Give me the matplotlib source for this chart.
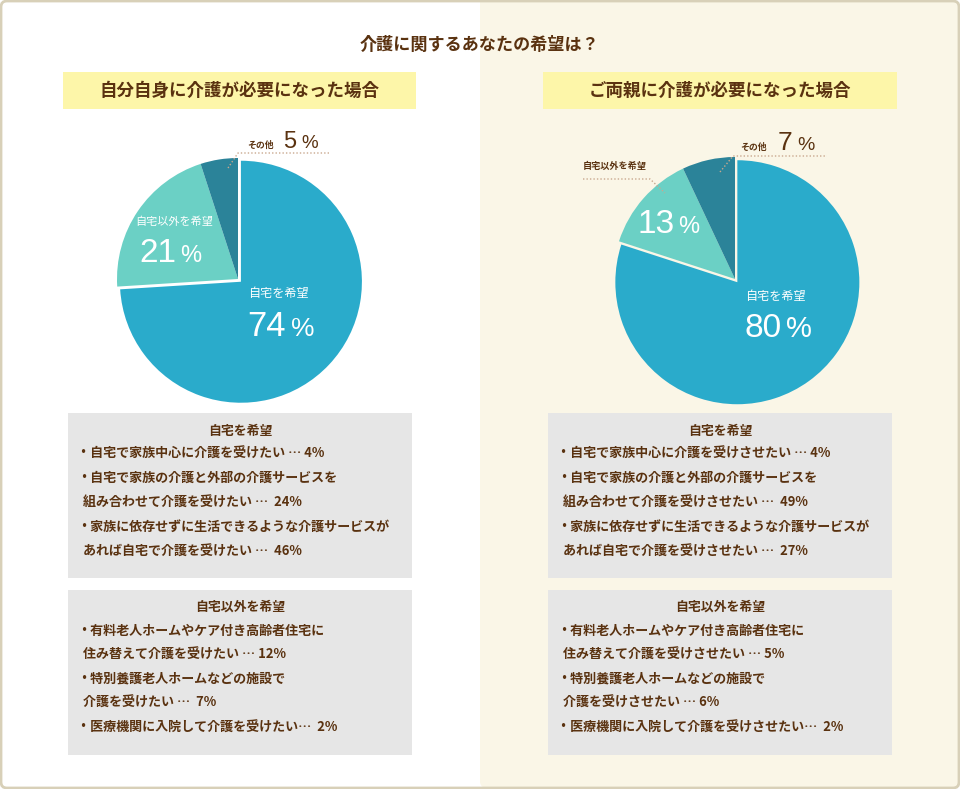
import matplotlib
matplotlib.use("Agg")
import matplotlib.pyplot as plt
from matplotlib.patches import FancyBboxPatch, Rectangle

plt.rcParams['font.family'] = ['Noto Sans CJK JP', 'DejaVu Sans']

# ---------------- data ----------------
title = "介護に関するあなたの希望は？"
left_header = "自分自身に介護が必要になった場合"
right_header = "ご両親に介護が必要になった場合"
slice_labels = ["自宅を希望", "自宅以外を希望", "その他"]
left_values = [74, 21, 5]
right_values = [80, 13, 7]

left_home_lines = [
    ("・自宅で家族中心に介護を受けたい … 4%", True),
    ("・自宅で家族の介護と外部の介護サービスを", True),
    ("組み合わせて介護を受けたい …  24%", False),
    ("・家族に依存せずに生活できるような介護サービスが", True),
    ("あれば自宅で介護を受けたい …  46%", False),
]
left_other_lines = [
    ("・有料老人ホームやケア付き高齢者住宅に", True),
    ("住み替えて介護を受けたい … 12%", False),
    ("・特別養護老人ホームなどの施設で", True),
    ("介護を受けたい …  7%", False),
    ("・医療機関に入院して介護を受けたい…  2%", True),
]
right_home_lines = [
    ("・自宅で家族中心に介護を受けさせたい … 4%", True),
    ("・自宅で家族の介護と外部の介護サービスを", True),
    ("組み合わせて介護を受けさせたい …  49%", False),
    ("・家族に依存せずに生活できるような介護サービスが", True),
    ("あれば自宅で介護を受けさせたい …  27%", False),
]
right_other_lines = [
    ("・有料老人ホームやケア付き高齢者住宅に", True),
    ("住み替えて介護を受けさせたい … 5%", False),
    ("・特別養護老人ホームなどの施設で", True),
    ("介護を受けさせたい … 6%", False),
    ("・医療機関に入院して介護を受けさせたい…  2%", True),
]

# ---------------- style ----------------
W, H = 960, 789
BROWN = "#5a3210"
C_HOME = "#2aabcb"
C_OUT = "#6bd0c5"
C_OTH = "#2b8399"
CREAM = "#faf6e7"
YELLOW = "#fdf6a9"
GRAY = "#e6e6e6"
BORDER = "#d8d0b8"
DOT = "#c9a88e"
NUM_FONT = ["Liberation Sans", "DejaVu Sans"]

fig = plt.figure(figsize=(W / 100, H / 100), dpi=100)
ax = fig.add_axes([0, 0, 1, 1])


def Y(y):
    return H - y


def set_lims():
    ax.set_xlim(0, W)
    ax.set_ylim(0, H)
    ax.set_aspect("auto")


# background
ax.add_patch(FancyBboxPatch((1.5, 1.5), W - 3, H - 3,
                            boxstyle="round,pad=0,rounding_size=6",
                            fc="white", ec="none", zorder=0))
ax.add_patch(FancyBboxPatch((480, 1.5), W - 481.5, H - 3,
                            boxstyle="round,pad=0,rounding_size=6",
                            fc=CREAM, ec="none", zorder=0.1))
ax.add_patch(Rectangle((480, H - 20), 40, 18.5, fc=CREAM, ec="none", zorder=0.1))
ax.add_patch(FancyBboxPatch((1, 1), W - 2, H - 2,
                            boxstyle="round,pad=0,rounding_size=6",
                            fc="none", ec=BORDER, lw=2, zorder=5))


def pie(cx, cy, r, values):
    wedges, _ = ax.pie(values, colors=[C_HOME, C_OUT, C_OTH], startangle=90,
                       counterclock=False, radius=r, center=(cx, Y(cy)),
                       explode=[4, 0, 0], frame=True,
                       wedgeprops=dict(linewidth=0))
    wedges[0].set_zorder(3)
    wedges[1].set_zorder(2)
    wedges[2].set_zorder(2)
    set_lims()
    return wedges


pie(238, 279, 121, left_values)
pie(735, 279, 122, right_values)
set_lims()
ax.axis("off")

ax.text(479, Y(45), title, ha="center", va="center", fontsize=12.3,
        fontweight="bold", color=BROWN)


def header(x0, x1, text):
    ax.add_patch(Rectangle((x0, Y(109)), x1 - x0, 37, fc=YELLOW, ec="none", zorder=1))
    ax.text((x0 + x1) / 2, Y(91), text, ha="center", va="center",
            fontsize=12.6, fontweight="bold", color=BROWN, zorder=2)


header(63, 416, left_header)
header(543, 897, right_header)

renderer = fig.canvas.get_renderer()


def pct(x, y, num, big, small, color, gap=4):
    t = ax.text(x, Y(y), num, ha="left", va="baseline", fontsize=big,
                color=color, family=NUM_FONT, zorder=6)
    bb = t.get_window_extent(renderer=renderer)
    x1 = ax.transData.inverted().transform((bb.x1, bb.y0))[0]
    ax.text(x1 + gap, Y(y), "%", ha="left", va="baseline", fontsize=small,
            color=color, family=NUM_FONT, zorder=6)


def dotted(xs, ys):
    ax.plot(xs, [Y(v) for v in ys], ls=(0, (1, 1.5)), color=DOT, lw=1, zorder=6)


# left pie labels
ax.text(248, Y(293), slice_labels[0], ha="left", va="center", fontsize=8.7,
        color="white", zorder=6)
pct(247, 336, f"{left_values[0]}", 25, 19, "white", gap=5)
ax.text(135, Y(222), slice_labels[1], ha="left", va="center", fontsize=8,
        color="white", zorder=6)
pct(139, 262, f"{left_values[1]}", 24, 17, "white", gap=4)
ax.text(247, Y(145), slice_labels[2], ha="left", va="center", fontsize=6.4,
        fontweight="bold", color=BROWN, zorder=6)
pct(283, 148, f"{left_values[2]}", 17, 13.5, BROWN, gap=5)
dotted([228, 238, 330], [168, 153, 153])

# right pie labels
ax.text(745, Y(296), slice_labels[0], ha="left", va="center", fontsize=8.7,
        color="white", zorder=6)
pct(745, 337, f"{right_values[0]}", 24, 21, "white", gap=4)
pct(638, 233, f"{right_values[1]}", 24, 17, "white", gap=3)
ax.text(740, Y(147), slice_labels[2], ha="left", va="center", fontsize=6.4,
        fontweight="bold", color=BROWN, zorder=6)
pct(778, 150, f"{right_values[2]}", 19, 14, BROWN, gap=5)
dotted([720, 733, 827], [172, 156, 156])
ax.text(583, Y(166), slice_labels[1], ha="left", va="center", fontsize=6.6,
        fontweight="bold", color=BROWN, zorder=6)
dotted([583, 650, 665], [179, 179, 193])


def box(x0, x1, y0, y1, head, lines, head_y, line_ys):
    ax.add_patch(Rectangle((x0, Y(y1)), x1 - x0, y1 - y0, fc=GRAY, ec="none", zorder=1))
    ax.text((x0 + x1) / 2, Y(head_y), head, ha="center", va="center",
            fontsize=9.3, fontweight="bold", color=BROWN, zorder=2)
    for (txt, bullet), ly in zip(lines, line_ys):
        ax.text(x0 + (9 if bullet else 15), Y(ly), txt, ha="left", va="center",
                fontsize=9.4, fontweight="bold", color=BROWN, zorder=2)


upper_ys = [454, 478, 503, 527, 552]
lower_ys = [631, 655, 679, 703, 728]
box(68, 412, 413, 578, slice_labels[0], left_home_lines, 431, upper_ys)
box(68, 412, 590, 755, slice_labels[1], left_other_lines, 607, lower_ys)
box(548, 892, 413, 578, slice_labels[0], right_home_lines, 431, upper_ys)
box(548, 892, 590, 755, slice_labels[1], right_other_lines, 607, lower_ys)

set_lims()
fig.savefig("out.png", dpi=100)
